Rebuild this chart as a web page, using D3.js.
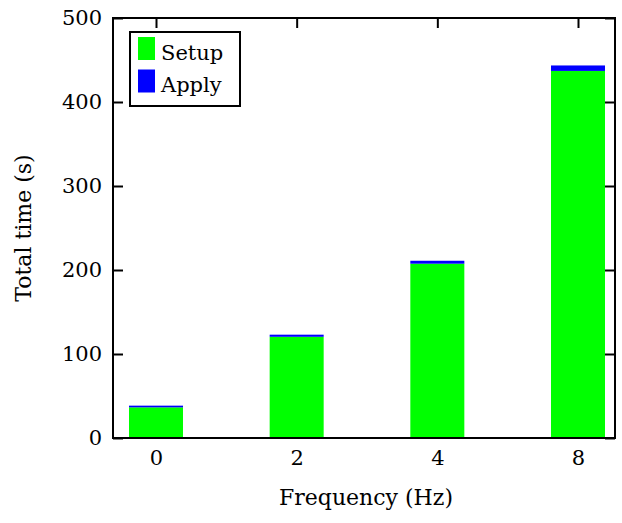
<!DOCTYPE html>
<html>
<head>
<meta charset="utf-8">
<script src="https://cdn.jsdelivr.net/npm/d3@7"></script>
<style>
  body { margin: 0; background: #fff; }
  text { font-family: "DejaVu Serif", serif; fill: #000; }
</style>
</head>
<body>
<script>
const WIDTH  = 622;
const HEIGHT = 523;

// Plot frame (pixels)
const LEFT = 113, RIGHT = 615, TOP = 18, BOTTOM = 438;

// Data
const frequencies = ["0", "2", "4", "8"];
const setupTimes  = [36.5, 120.5, 207.5, 437];
const applyTimes  = [2, 2.5, 3.5, 6.5];
const yTicks      = [0, 100, 200, 300, 400, 500];
const seriesNames = ["Setup", "Apply"];
const seriesColors = ["#00ff00", "#0000ff"];

const svg = d3.select("body").append("svg")
  .attr("width", WIDTH)
  .attr("height", HEIGHT);

const xScale = d3.scalePoint().domain(frequencies).range([156, 578]);
const yScale = d3.scaleLinear().domain([0, 500]).range([BOTTOM, TOP]);
const barWidth = 54;

// Ticks all point inward, like the original
function styleAxis(g) {
  g.select(".domain").remove();
  g.selectAll(".tick line").attr("stroke", "#000").attr("stroke-width", 2);
  g.selectAll(".tick text").style("font-size", "21px").attr("fill", "#000");
}

svg.append("g")
  .attr("transform", "translate(0," + BOTTOM + ")")
  .call(d3.axisBottom(xScale).tickSizeInner(-10).tickSizeOuter(0).tickPadding(12))
  .call(styleAxis);

svg.append("g")
  .attr("transform", "translate(0," + TOP + ")")
  .call(d3.axisTop(xScale).tickSizeInner(-10).tickSizeOuter(0).tickFormat(""))
  .call(styleAxis);

svg.append("g")
  .attr("transform", "translate(" + LEFT + ",0)")
  .call(d3.axisLeft(yScale).tickValues(yTicks).tickSizeInner(-10).tickSizeOuter(0).tickPadding(11))
  .call(styleAxis);

svg.append("g")
  .attr("transform", "translate(" + RIGHT + ",0)")
  .call(d3.axisRight(yScale).tickValues(yTicks).tickSizeInner(-10).tickSizeOuter(0).tickFormat(""))
  .call(styleAxis);

// Stacked bars: setup at the bottom, apply on top
const stackData = frequencies.map((f, i) => ({ freq: f, Setup: setupTimes[i], Apply: applyTimes[i] }));
const stacked = d3.stack().keys(seriesNames)(stackData);

svg.append("g").selectAll("g")
  .data(stacked)
  .enter().append("g")
    .attr("fill", (d, i) => seriesColors[i])
  .selectAll("rect")
  .data(d => d)
  .enter().append("rect")
    .attr("x", d => xScale(d.data.freq) - barWidth / 2)
    .attr("y", d => yScale(d[1]))
    .attr("width", barWidth)
    .attr("height", d => yScale(d[0]) - yScale(d[1]));

// Frame on top of the bars
svg.append("rect")
  .attr("x", LEFT).attr("y", TOP)
  .attr("width", RIGHT - LEFT).attr("height", BOTTOM - TOP)
  .attr("fill", "none")
  .attr("stroke", "#000")
  .attr("stroke-width", 2);

// Axis labels
svg.append("text")
  .attr("x", (LEFT + RIGHT) / 2 + 2)
  .attr("y", 505)
  .attr("text-anchor", "middle")
  .style("font-size", "22px")
  .text("Frequency (Hz)");

svg.append("text")
  .attr("transform", "translate(31," + (TOP + BOTTOM) / 2 + ") rotate(-90)")
  .attr("text-anchor", "middle")
  .style("font-size", "22px")
  .text("Total time (s)");

// Legend
const legend = svg.append("g");
legend.append("rect")
  .attr("x", 130).attr("y", 32)
  .attr("width", 110).attr("height", 74)
  .attr("fill", "#fff")
  .attr("stroke", "#000")
  .attr("stroke-width", 2);

seriesNames.forEach((name, i) => {
  legend.append("rect")
    .attr("x", 138).attr("y", 37 + i * 32.5)
    .attr("width", 17).attr("height", 23)
    .attr("fill", seriesColors[i]);
  legend.append("text")
    .attr("x", 161).attr("y", 59.5 + i * 32.5)
    .style("font-size", "21px")
    .text(name);
});
</script>
</body>
</html>
